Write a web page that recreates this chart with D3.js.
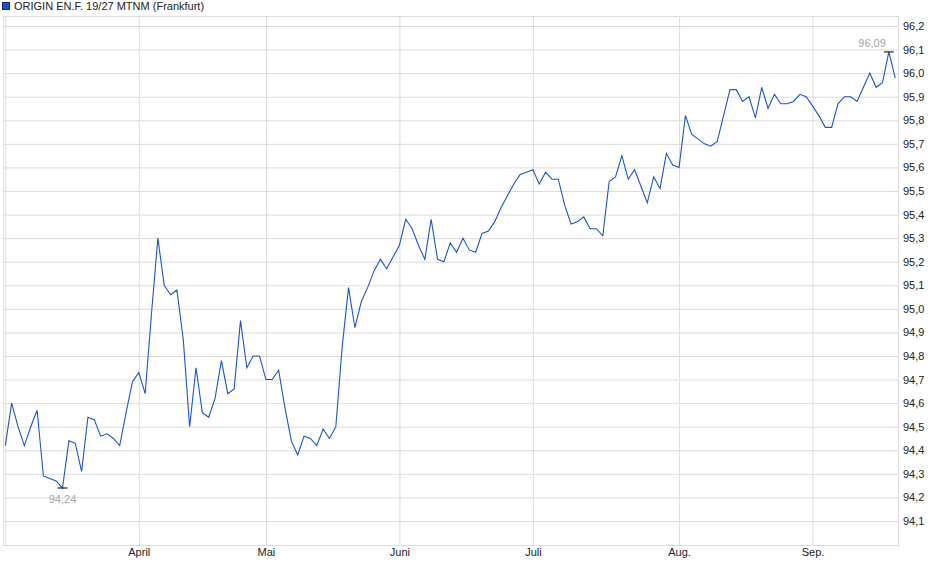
<!DOCTYPE html>
<html>
<head>
<meta charset="utf-8">
<script src="https://cdn.jsdelivr.net/npm/d3@7/dist/d3.min.js"></script>
<style>
  body { margin: 0; background: #fff; }
  svg text { font-family: "Liberation Sans", Arial, sans-serif; }
</style>
</head>
<body>
<svg id="chart"></svg>
<script>
// closing prices, one per trading day (3 Mar 2025 .. 17 Sep 2025)
var prices = [
  94.42, 94.60, 94.50, 94.42, 94.50, 94.57, 94.29, 94.28, 94.27, 94.24,
  94.44, 94.43, 94.31, 94.54, 94.53, 94.46, 94.47, 94.45, 94.42, 94.56,
  94.69, 94.73, 94.64, 94.98, 95.30, 95.10, 95.06, 95.08, 94.87, 94.50,
  94.75, 94.56, 94.54, 94.62, 94.78, 94.64, 94.66, 94.95, 94.75, 94.80,
  94.80, 94.70, 94.70, 94.74, 94.58, 94.44, 94.38, 94.46, 94.45, 94.42,
  94.49, 94.45, 94.50, 94.84, 95.09, 94.92, 95.03, 95.09, 95.16, 95.21,
  95.17, 95.22, 95.27, 95.38, 95.34, 95.27, 95.21, 95.38, 95.21, 95.20,
  95.28, 95.24, 95.30, 95.25, 95.24, 95.32, 95.33, 95.37, 95.43, 95.48,
  95.53, 95.57, 95.58, 95.59, 95.53, 95.58, 95.55, 95.55, 95.44, 95.36,
  95.37, 95.39, 95.34, 95.34, 95.31, 95.54, 95.56, 95.65, 95.55, 95.59,
  95.52, 95.45, 95.56, 95.51, 95.66, 95.61, 95.60, 95.82, 95.74, 95.72,
  95.70, 95.69, 95.71, 95.82, 95.93, 95.93, 95.88, 95.90, 95.81, 95.94,
  95.85, 95.91, 95.87, 95.87, 95.88, 95.91, 95.90, 95.86, 95.82, 95.77,
  95.77, 95.87, 95.90, 95.90, 95.88, 95.94, 96.00, 95.94, 95.96, 96.09,
  95.98
];

// first trading day of each month (index into prices) and its label
var monthStart = [0, 21, 41, 62, 83, 106, 127];
var monthLabels = ['', 'April', 'Mai', 'Juni', 'Juli', 'Aug.', 'Sep.'];

var yTicks = [94.1, 94.2, 94.3, 94.4, 94.5, 94.6, 94.7, 94.8, 94.9, 95.0, 95.1,
              95.2, 95.3, 95.4, 95.5, 95.6, 95.7, 95.8, 95.9, 96.0, 96.1, 96.2];

var seriesName = 'ORIGIN EN.F. 19/27 MTNM (Frankfurt)';

var W = 940, H = 579;
var box = { left: 3, top: 16, right: 898, bottom: 545 };

var svg = d3.select('#chart').attr('width', W).attr('height', H);

var x = d3.scaleLinear()
  .domain([0, prices.length - 1])
  .range([5.3, 895.2]);

var y = d3.scaleLinear()
  .domain([94.1, 96.2])
  .range([521, 26]);

var de = d3.formatLocale({ decimal: ',', thousands: '.', grouping: [3], currency: ['', ' €'] });
var fmt1 = de.format('.1f');
var fmt2 = de.format('.2f');

var grid = '#dcdcdc';

// horizontal gridlines + labels on the right
var yAxis = d3.axisRight(y)
  .tickValues(yTicks)
  .tickSize(-(box.right - box.left))
  .tickPadding(5)
  .tickFormat(fmt1);

var gy = svg.append('g')
  .attr('transform', `translate(${box.right}, 0)`)
  .call(yAxis);
gy.select('.domain').remove();
gy.selectAll('line').attr('stroke', grid);
gy.selectAll('text')
  .attr('fill', '#222')
  .attr('font-size', '11px');

// vertical month gridlines + labels below
var xAxis = d3.axisBottom(x)
  .tickValues(monthStart)
  .tickSize(-(box.bottom - box.top))
  .tickPadding(3)
  .tickFormat((d, i) => monthLabels[i]);

var gx = svg.append('g')
  .attr('transform', `translate(0, ${box.bottom})`)
  .call(xAxis);
gx.select('.domain').remove();
gx.selectAll('line').attr('stroke', grid);
gx.selectAll('text')
  .attr('fill', '#222')
  .attr('font-size', '11px');

// frame
svg.append('rect')
  .attr('x', box.left + 0.5)
  .attr('y', box.top + 0.5)
  .attr('width', box.right - box.left)
  .attr('height', box.bottom - box.top)
  .attr('fill', 'none')
  .attr('stroke', grid);

// price line
var line = d3.line()
  .x((d, i) => x(i))
  .y(d => y(d));

svg.append('path')
  .datum(prices)
  .attr('d', line)
  .attr('fill', 'none')
  .attr('stroke', '#1a56c8')
  .attr('stroke-width', 1.1)
  .attr('stroke-linejoin', 'miter');

// min / max markers
var iMin = d3.minIndex(prices);
var iMax = d3.maxIndex(prices);

[[iMin, 'middle', 11], [iMax, 'end', -5]].forEach(([i, anchor, dy]) => {
  svg.append('line')
    .attr('x1', x(i) - 5).attr('x2', x(i) + 5)
    .attr('y1', y(prices[i])).attr('y2', y(prices[i]))
    .attr('stroke', '#000')
    .attr('stroke-width', 1);
  svg.append('text')
    .attr('x', anchor === 'end' ? x(i) - 3 : x(i))
    .attr('y', y(prices[i]) + dy)
    .attr('dy', dy > 0 ? '0.35em' : '0')
    .attr('text-anchor', anchor)
    .attr('font-size', '11px')
    .attr('fill', '#a8a8a8')
    .text(fmt2(prices[i]));
});

// legend
svg.append('rect')
  .attr('x', 2.5).attr('y', 2.5)
  .attr('width', 7).attr('height', 7)
  .attr('fill', '#1f55c0')
  .attr('stroke', '#0c2a7a');
svg.append('text')
  .attr('x', 14)
  .attr('y', 10)
  .attr('font-size', '11px')
  .attr('fill', '#222')
  .text(seriesName);
</script>
</body>
</html>
